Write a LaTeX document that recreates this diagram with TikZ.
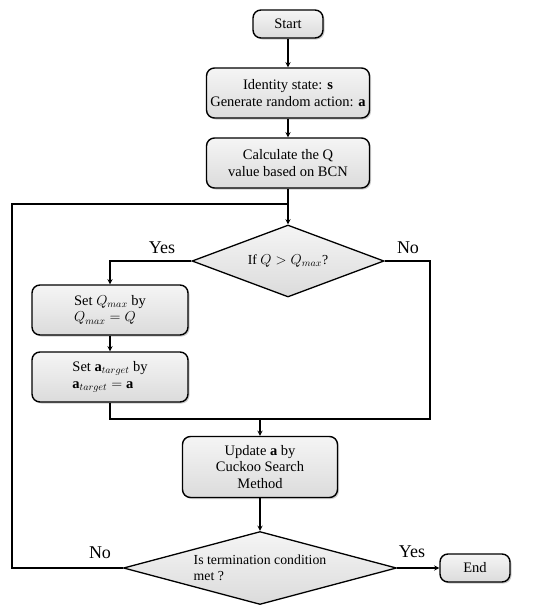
\documentclass[tikz,border=0pt]{standalone}
\usepackage{fontspec}
\setmainfont{Liberation Serif}
\usepackage{amsmath}
\usetikzlibrary{shapes,arrows,positioning,shadows}

\begin{document}
\begin{tikzpicture}[x=1pt,y=-1pt,
    block/.style={rectangle,rounded corners=8pt,draw,line width=1.4pt,top color=gray!8,bottom color=gray!28,
      drop shadow={shadow xshift=1.5pt,shadow yshift=-1.5pt,opacity=0.4},text centered,font=\fontsize{14.5}{16.5}\selectfont},
    decision/.style={diamond,draw,line width=1.3pt,top color=gray!8,bottom color=gray!28,inner sep=0pt,font=\fontsize{13.8}{16.5}\selectfont},
    label/.style={font=\fontsize{18}{20}\selectfont},
    line/.style={line width=1.3pt},
    arrow/.style={->,>=stealth,line width=1.3pt}]
    \useasboundingbox (0,0) rectangle (550,614);
    \node[block,minimum width=70pt,minimum height=28pt] (start) at (288,24) {Start};
    \node[block,minimum width=163pt,minimum height=50pt,align=center] (ident) at (288,93) {Identity state: $\mathbf{s}$\\Generate random action: $\mathbf{a}$};
    \node[block,minimum width=163pt,minimum height=50pt,align=center] (calc) at (288,163) {Calculate the Q\\value based on BCN};
    \node[decision,aspect=2.67,minimum width=192pt,minimum height=72pt] (ifq) at (288,261) {If $Q > Q_{max}$?};
    \node[block,minimum width=156pt,minimum height=50pt,align=left] (setq) at (110,310) {Set $Q_{max}$ by\\$Q_{max}=Q$};
    \node[block,minimum width=156pt,minimum height=50pt,align=left] (seta) at (110,377) {Set $\mathbf{a}_{target}$ by\\$\mathbf{a}_{target}=\mathbf{a}$};
    \node[block,minimum width=155pt,minimum height=61pt,align=center] (update) at (260,467) {Update $\mathbf{a}$ by\\Cuckoo Search\\Method};
    \node[decision,aspect=3.74,minimum width=273pt,minimum height=73pt,align=left] (term) at (260,568) {Is termination condition\\met ?};
    \node[block,minimum width=70pt,minimum height=28pt] (end) at (475,568) {End};
    \coordinate (loop) at (288,204);
    \coordinate (back) at (12,568);
    \coordinate (nobend) at (430,419);
    \coordinate (merge) at (260,419);
    \draw[arrow] (start) -- (ident);
    \draw[arrow] (ident) -- (calc);
    \draw[line] (calc) -- (loop);
    \draw[arrow] (loop) -- (ifq.north);
    \draw[arrow] (ifq.west) -| (setq.north);
    \draw[arrow] (setq) -- (seta);
    \draw[line] (seta.south) |- (merge);
    \draw[line] (ifq.east) -| (nobend) -- (merge);
    \draw[arrow] (merge) -- (update);
    \draw[arrow] (update) -- (term.north);
    \draw[arrow] (term.east) -- (end);
    \draw[line] (term.west) -- (back) |- (loop);
    \node[label] (yes1) at (162,248) {Yes};
    \node[label] (no1) at (408,248) {No};
    \node[label] (no2) at (100,553) {No};
    \node[label] (yes2) at (412,552) {Yes};
\end{tikzpicture}
\end{document}
